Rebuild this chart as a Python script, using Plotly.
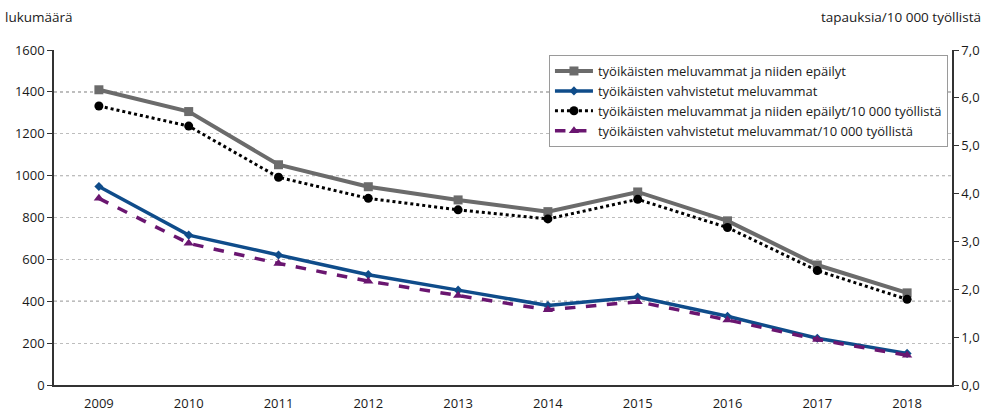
import plotly.graph_objects as go

# Years and series values
years = ["2009", "2010", "2011", "2012", "2013", "2014", "2015", "2016", "2017", "2018"]
suspected_counts = [1410, 1306, 1052, 947, 884, 828, 922, 784, 573, 440]
confirmed_counts = [948, 716, 621, 527, 453, 380, 420, 328, 223, 151]
suspected_rate = [5.83, 5.41, 4.34, 3.90, 3.66, 3.47, 3.88, 3.29, 2.39, 1.79]
confirmed_rate = [3.90, 2.96, 2.54, 2.17, 1.87, 1.57, 1.74, 1.36, 0.95, 0.62]

left_ticks = [0, 200, 400, 600, 800, 1000, 1200, 1400, 1600]
strong_grid = [400, 1000, 1400]
right_ticks = [0, 1, 2, 3, 4, 5, 6, 7]
right_ticktext = ["0,0", "1,0", "2,0", "3,0", "4,0", "5,0", "6,0", "7,0"]

names = [
    "työikäisten meluvammat ja niiden epäilyt",
    "työikäisten vahvistetut meluvammat",
    "työikäisten meluvammat ja niiden epäilyt/10 000 työllistä",
    "työikäisten vahvistetut meluvammat/10 000 työllistä",
]

FONT = "Open Sans"
x = list(range(len(years)))

fig = go.Figure()
fig.add_trace(go.Scatter(
    x=x, y=suspected_counts, name=names[0], mode="lines+markers",
    line=dict(color="#6b6b6b", width=4),
    marker=dict(symbol="square", size=9, color="#6b6b6b"),
))
fig.add_trace(go.Scatter(
    x=x, y=confirmed_counts, name=names[1], mode="lines+markers",
    line=dict(color="#0f4c8a", width=3.5),
    marker=dict(symbol="diamond", size=7, color="#0f4c8a"),
))
fig.add_trace(go.Scatter(
    x=x, y=suspected_rate, name=names[2], mode="lines+markers", yaxis="y2",
    line=dict(color="#000000", width=3, dash="dot"),
    marker=dict(symbol="circle", size=9, color="#000000"),
))
fig.add_trace(go.Scatter(
    x=x, y=confirmed_rate, name=names[3], mode="lines+markers", yaxis="y2",
    line=dict(color="#6a1670", width=3.5, dash="dash"),
    marker=dict(symbol="triangle-up", size=9, color="#6a1670"),
))

# darker dotted guide lines drawn beneath the data
shapes = [
    dict(type="line", xref="paper", x0=0, x1=1, yref="y", y0=v, y1=v,
         line=dict(color="#555555", width=1, dash="dot"), layer="below")
    for v in strong_grid
]

fig.update_layout(
    width=985, height=413,
    margin=dict(l=54, r=33, t=50, b=28),
    paper_bgcolor="white", plot_bgcolor="white",
    font=dict(family=FONT, size=13, color="#1a1a1a"),
    showlegend=True,
    legend=dict(
        x=0.9955, y=0.985, xanchor="right", yanchor="top",
        bgcolor="white", bordercolor="#9a9a9a", borderwidth=1,
        font=dict(family=FONT, size=13, color="#1a1a1a"),
        tracegroupgap=0, itemwidth=38,
    ),
    shapes=shapes,
    xaxis=dict(
        tickmode="array", tickvals=x, ticktext=years,
        range=[-0.5, len(years) - 0.5], automargin=False,
        showgrid=False, zeroline=False,
        showline=True, linecolor="#333333", linewidth=1.5,
        ticks="", tickfont=dict(size=13), ticklabelstandoff=6,
    ),
    yaxis=dict(
        range=[0, 1600], tickmode="array", tickvals=left_ticks, automargin=False,
        showgrid=True, gridcolor="#bdbdbd", gridwidth=1, griddash="dot",
        zeroline=False, showline=True, linecolor="#333333", linewidth=1.5,
        ticks="outside", ticklen=5, tickcolor="#333333",
        tickfont=dict(size=13),
    ),
    yaxis2=dict(
        range=[0, 7], overlaying="y", side="right", automargin=False,
        tickmode="array", tickvals=right_ticks, ticktext=right_ticktext,
        showgrid=False, zeroline=False,
        showline=True, linecolor="#333333", linewidth=1.5,
        ticks="outside", ticklen=5, tickcolor="#333333",
        tickfont=dict(size=13),
    ),
    annotations=[
        dict(text="lukumäärä", x=0, y=1, xref="paper", yref="paper",
             xanchor="left", yanchor="top", showarrow=False,
             font=dict(family=FONT, size=13.5, color="#1a1a1a"),
             xshift=-51, yshift=44),
        dict(text="tapauksia/10 000 työllistä", x=1, y=1, xref="paper", yref="paper",
             xanchor="right", yanchor="top", showarrow=False,
             font=dict(family=FONT, size=13.5, color="#1a1a1a"),
             xshift=31, yshift=44),
    ],
)

fig.write_html("out.html")
